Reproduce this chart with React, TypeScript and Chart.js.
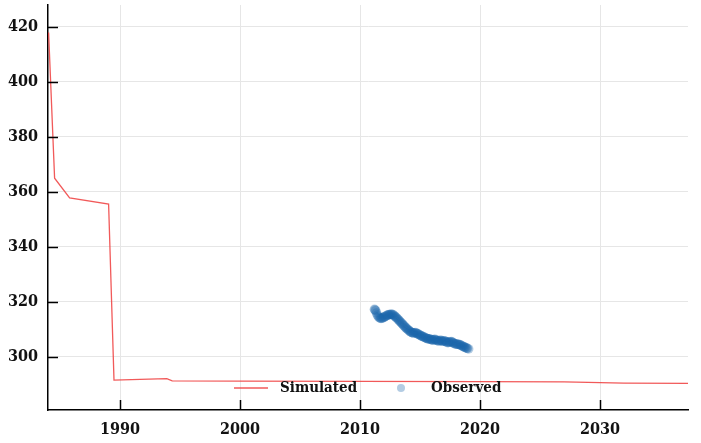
import React, { useEffect, useRef } from "react";
import { Chart, registerables } from "chart.js";

Chart.register(...registerables);

const simYears = [1984.05, 1984.55, 1985.8, 1989.05, 1989.5, 1993.9, 1994.35, 2000, 2010, 2020, 2027, 2032, 2037.33];
const simValues = [418, 365, 357.8, 355.6, 291.6, 292.1, 291.3, 291.2, 291.1, 291.0, 290.9, 290.5, 290.4];

const obsYears = [
  2011.2, 2011.25, 2011.3, 2011.38, 2011.45, 2011.52, 2011.6, 2011.68, 2011.75, 2011.82,
  2011.9, 2011.98, 2012.05, 2012.12, 2012.2, 2012.28, 2012.35, 2012.42, 2012.5, 2012.58,
  2012.65, 2012.72, 2012.8, 2012.88, 2012.95, 2013.02, 2013.1, 2013.18, 2013.25, 2013.32,
  2013.4, 2013.48, 2013.55, 2013.62, 2013.7, 2013.78, 2013.85, 2013.92, 2014.0, 2014.08,
  2014.15, 2014.22, 2014.3, 2014.38, 2014.45, 2014.52, 2014.6, 2014.68, 2014.75, 2014.82,
  2014.9, 2014.98, 2015.05, 2015.12, 2015.2, 2015.28, 2015.35, 2015.42, 2015.5, 2015.58,
  2015.65, 2015.72, 2015.8, 2015.88, 2015.95, 2016.02, 2016.1, 2016.18, 2016.25, 2016.32,
  2016.4, 2016.48, 2016.55, 2016.62, 2016.7, 2016.78, 2016.85, 2016.92, 2017.0, 2017.08,
  2017.15, 2017.22, 2017.3, 2017.38, 2017.45, 2017.52, 2017.6, 2017.68, 2017.75, 2017.82,
  2017.9, 2017.98, 2018.05, 2018.12, 2018.2, 2018.28, 2018.35, 2018.42, 2018.5, 2018.58,
  2018.65, 2018.72, 2018.8, 2018.88, 2018.95, 2019.05,
];
const obsValues = [
  317.3, 317.1, 316.8, 316.0, 315.2, 314.7, 314.3, 314.1, 314.0, 314.1,
  314.2, 314.4, 314.6, 314.8, 315.0, 315.2, 315.3, 315.4, 315.4, 315.5,
  315.5, 315.4, 315.2, 314.9, 314.6, 314.3, 314.0, 313.6, 313.3, 312.9,
  312.6, 312.2, 311.9, 311.5, 311.2, 310.8, 310.5, 310.2, 309.9, 309.6,
  309.3, 309.1, 308.9, 308.8, 308.7, 308.8, 308.9, 308.7, 308.5, 308.3,
  308.2, 308.0, 307.8, 307.6, 307.5, 307.3, 307.2, 307.0, 306.9, 306.7,
  306.6, 306.6, 306.5, 306.4, 306.3, 306.2, 306.1, 306.3, 306.4, 306.2,
  306.0, 305.9, 305.8, 305.9, 306.1, 305.9, 305.7, 305.8, 305.9, 305.8,
  305.6, 305.4, 305.2, 305.3, 305.4, 305.5, 305.6, 305.4, 305.2, 305.0,
  304.8, 304.7, 304.7, 304.6, 304.6, 304.5, 304.4, 304.2, 304.0, 303.9,
  303.7, 303.5, 303.4, 303.2, 303.1, 302.9,
];

const xTickValues = [1990, 2000, 2010, 2020, 2030];
const yTickValues = [300, 320, 340, 360, 380, 400, 420];

const FONT = "'DejaVu Serif Condensed', 'DejaVu Serif', serif";

const innerTicks = {
  id: "innerTicks",
  afterDraw(chart: any) {
    const { ctx, chartArea, scales } = chart;
    ctx.save();
    ctx.strokeStyle = "#000";
    ctx.lineWidth = 1.5;
    for (const v of yTickValues) {
      const y = Math.round(scales.y.getPixelForValue(v)) + 0.5;
      ctx.beginPath();
      ctx.moveTo(chartArea.left, y);
      ctx.lineTo(chartArea.left + 10, y);
      ctx.stroke();
    }
    for (const v of xTickValues) {
      const x = Math.round(scales.x.getPixelForValue(v)) + 0.5;
      ctx.beginPath();
      ctx.moveTo(x, chartArea.bottom);
      ctx.lineTo(x, chartArea.bottom - 10);
      ctx.stroke();
    }
    ctx.restore();
  },
};

const innerLegend = {
  id: "innerLegend",
  afterDatasetsDraw(chart: any) {
    const { ctx } = chart;
    const ds = chart.data.datasets;
    const y = 388;
    ctx.save();
    ctx.font = `bold 15px ${FONT}`;
    ctx.textBaseline = "middle";
    ctx.fillStyle = "#111";
    ctx.strokeStyle = ds[0].borderColor;
    ctx.lineWidth = 1.5;
    ctx.beginPath();
    ctx.moveTo(234, y);
    ctx.lineTo(268, y);
    ctx.stroke();
    ctx.fillText(ds[0].label, 280, y);
    ctx.fillStyle = ds[1].backgroundColor;
    ctx.beginPath();
    ctx.arc(401, y, 4, 0, Math.PI * 2);
    ctx.fill();
    ctx.fillStyle = "#111";
    ctx.fillText(ds[1].label, 431, y);
    ctx.restore();
  },
};

export default function App() {
  const ref = useRef<HTMLCanvasElement>(null);
  useEffect(() => {
    if (!ref.current) return;
    const chart = new Chart(ref.current, {
      type: "scatter",
      data: {
        datasets: [
          {
            label: "Simulated",
            type: "line",
            data: simYears.map((x, i) => ({ x, y: simValues[i] })),
            borderColor: "rgba(238,60,60,0.85)",
            borderWidth: 1.3,
            pointRadius: 0,
            fill: false,
            tension: 0,
          } as any,
          {
            label: "Observed",
            data: obsYears.map((x, i) => ({ x, y: obsValues[i] })),
            backgroundColor: "rgba(25,100,170,0.33)",
            borderWidth: 0,
            pointRadius: 4.8,
          },
        ],
      },
      options: {
        responsive: false,
        animation: false,
        layout: { padding: { top: 5, right: 13, left: 0, bottom: 0 } },
        plugins: { legend: { display: false }, tooltip: { enabled: false } },
        scales: {
          x: {
            type: "linear",
            min: 1984,
            max: 2037.33,
            afterBuildTicks: (s: any) => {
              s.ticks = xTickValues.map((v) => ({ value: v }));
            },
            afterFit: (s: any) => {
              s.height = 33;
              s.paddingLeft = 0;
              s.paddingRight = 0;
            },
            grid: { color: "#e6e6e6", lineWidth: 1, drawTicks: false },
            border: { display: true, color: "#000", width: 1.5 },
            ticks: {
              padding: 10,
              color: "#111",
              font: { family: FONT, size: 16, weight: "bold" },
              callback: (v: any) => String(v),
            },
          },
          y: {
            type: "linear",
            min: 280.7,
            max: 428,
            afterBuildTicks: (s: any) => {
              s.ticks = yTickValues.map((v) => ({ value: v }));
            },
            afterFit: (s: any) => {
              s.width = 48;
              s.paddingTop = 0;
              s.paddingBottom = 0;
            },
            grid: { color: "#e6e6e6", lineWidth: 1, drawTicks: false },
            border: { display: true, color: "#000", width: 1.5 },
            ticks: {
              padding: 10,
              color: "#111",
              font: { family: FONT, size: 16, weight: "bold" },
              callback: (v: any) => String(v),
            },
          },
        },
      },
      plugins: [innerTicks, innerLegend],
    });
    return () => chart.destroy();
  }, []);
  return (
    <div style={{ position: "fixed", left: 0, top: 0, width: 701, height: 443, background: "#fff" }}>
      <canvas ref={ref} width={701} height={443} />
    </div>
  );
}
